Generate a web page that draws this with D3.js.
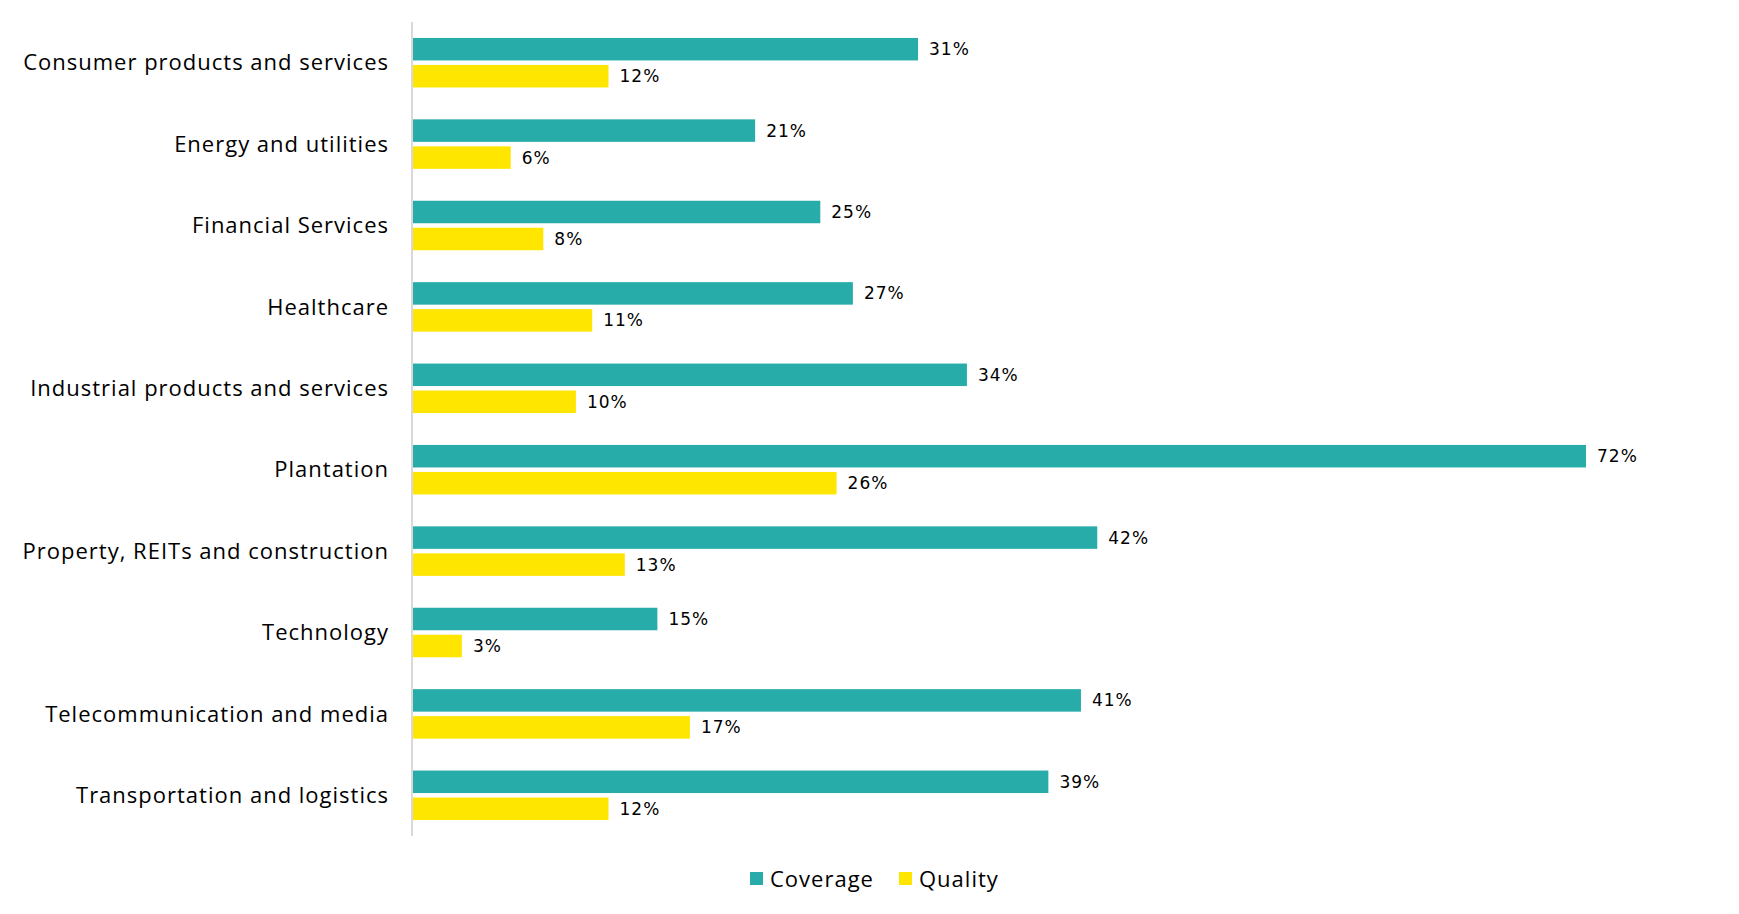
<!DOCTYPE html>
<html>
<head>
<meta charset="utf-8">
<script src="https://cdn.jsdelivr.net/npm/d3@7"></script>
<style>
  html, body { margin: 0; padding: 0; background: #fff; }
  svg { display: block; }
</style>
</head>
<body>
<svg id="chart" width="1739" height="914"></svg>
<script>
const categories = [
  "Consumer products and services",
  "Energy and utilities",
  "Financial Services",
  "Healthcare",
  "Industrial products and services",
  "Plantation",
  "Property, REITs and construction",
  "Technology",
  "Telecommunication and media",
  "Transportation and logistics"
];
const seriesNames = ["Coverage", "Quality"];
const coverage = [31, 21, 25, 27, 34, 72, 42, 15, 41, 39];
const quality = [12, 6, 8, 11, 10, 26, 13, 3, 17, 12];
const colors = ["#27ACAA", "#FFE600"];

const svg = d3.select("#chart");

const x = d3.scaleLinear().domain([0, 72]).range([413, 1586]);
const y = d3.scaleBand().domain(categories).range([22, 836]).paddingInner(0).paddingOuter(0);
const inner = d3.scaleBand().domain(seriesNames)
  .range([(y.bandwidth() - 49.5) / 2, (y.bandwidth() + 49.5) / 2])
  .paddingInner(0.1667).paddingOuter(0);

const data = categories.map((c, i) => ({ cat: c, values: [coverage[i], quality[i]] }));

// axis line
svg.append("line")
  .attr("x1", x(0) - 1).attr("x2", x(0) - 1)
  .attr("y1", y.range()[0]).attr("y2", y.range()[1])
  .attr("stroke", "#d9d9d9").attr("stroke-width", 2);

const groups = svg.selectAll("g.grp").data(data).join("g")
  .attr("class", "grp")
  .attr("transform", d => `translate(0,${y(d.cat)})`);

groups.selectAll("rect").data(d => d.values.map((v, j) => ({ v, s: seriesNames[j], j })))
  .join("rect")
  .attr("x", x(0))
  .attr("y", d => inner(d.s))
  .attr("width", d => x(d.v) - x(0))
  .attr("height", inner.bandwidth())
  .attr("fill", d => colors[d.j]);

groups.selectAll("text.val").data(d => d.values.map((v, j) => ({ v, s: seriesNames[j], j })))
  .join("text")
  .attr("class", "val")
  .attr("x", d => x(d.v) + 11)
  .attr("y", d => inner(d.s) + inner.bandwidth() / 2)
  .attr("dy", "0.35em")
  .attr("font-family", "DejaVu Sans")
  .attr("font-size", 17)
  .attr("letter-spacing", "1px")
  .attr("fill", "#000")
  .text(d => d.v + "%");

// category labels
svg.append("g").selectAll("text").data(categories).join("text")
  .attr("x", 389)
  .attr("y", d => y(d) + y.bandwidth() / 2)
  .attr("dy", "0.35em")
  .attr("text-anchor", "end")
  .attr("font-family", "Open Sans")
  .attr("font-size", 22)
  .attr("letter-spacing", "1px")
  .attr("fill", "#000")
  .text(d => d);

// legend
const legend = svg.append("g");
const legX = [750, 899];
seriesNames.forEach((s, i) => {
  legend.append("rect").attr("x", legX[i]).attr("y", 872).attr("width", 13).attr("height", 13).attr("fill", colors[i]);
  legend.append("text").attr("x", legX[i] + 20).attr("y", 879).attr("dy", "0.35em")
    .attr("font-family", "Open Sans").attr("font-size", 22).attr("letter-spacing", "1px")
    .attr("fill", "#000").text(s);
});
</script>
</body>
</html>
